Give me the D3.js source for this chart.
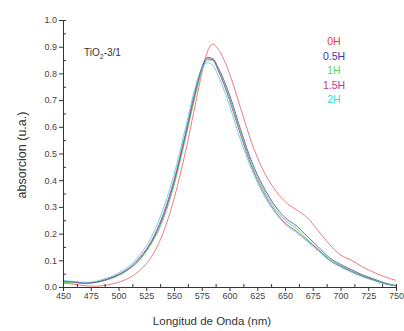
<!DOCTYPE html>
<html>
<head>
<meta charset="utf-8">
<script src="https://cdn.jsdelivr.net/npm/d3@7"></script>
<style>
  body { margin: 0; background: #fff; }
  svg { display: block; font-family: "Liberation Sans", Arial, sans-serif; }
</style>
</head>
<body>
<div id="chart"></div>
<script>
// Datos del espectro
var wavelength = [450, 460, 470, 480, 490, 500, 510, 520, 530, 540, 550, 560, 570, 575, 580, 585, 590,
  600, 610, 620, 630, 640, 650, 660, 670, 680, 690, 700, 710, 720, 730, 740, 750];

var abs0H  = [0.015, 0.010, 0.005, 0.003, 0.008, 0.018, 0.035, 0.065, 0.115, 0.20, 0.33, 0.50, 0.70, 0.80, 0.88, 0.91, 0.89,
  0.80, 0.67, 0.54, 0.44, 0.37, 0.32, 0.29, 0.26, 0.21, 0.16, 0.12, 0.10, 0.075, 0.055, 0.038, 0.025];
var abs05H = [0.020, 0.018, 0.014, 0.018, 0.028, 0.045, 0.070, 0.110, 0.170, 0.26, 0.39, 0.56, 0.74, 0.82, 0.86, 0.855, 0.82,
  0.72, 0.59, 0.47, 0.38, 0.31, 0.26, 0.23, 0.19, 0.15, 0.11, 0.085, 0.065, 0.045, 0.030, 0.015, 0.005];
var abs1H  = [0.018, 0.016, 0.013, 0.017, 0.027, 0.043, 0.068, 0.105, 0.165, 0.25, 0.38, 0.55, 0.73, 0.81, 0.85, 0.85, 0.81,
  0.71, 0.58, 0.46, 0.37, 0.30, 0.25, 0.22, 0.18, 0.14, 0.105, 0.08, 0.06, 0.042, 0.028, 0.014, 0.006];
var abs15H = [0.022, 0.019, 0.015, 0.019, 0.030, 0.047, 0.073, 0.115, 0.175, 0.27, 0.40, 0.57, 0.75, 0.82, 0.855, 0.85, 0.81,
  0.70, 0.57, 0.45, 0.36, 0.29, 0.24, 0.21, 0.175, 0.14, 0.10, 0.078, 0.058, 0.040, 0.026, 0.012, 0.004];
var abs2H  = [0.024, 0.021, 0.017, 0.022, 0.034, 0.052, 0.080, 0.125, 0.19, 0.29, 0.42, 0.59, 0.76, 0.82, 0.84, 0.83, 0.79,
  0.68, 0.55, 0.44, 0.35, 0.285, 0.235, 0.205, 0.17, 0.135, 0.10, 0.075, 0.055, 0.038, 0.024, 0.012, 0.004];

var seriesNames = ["0H", "0.5H", "1H", "1.5H", "2H"];
var seriesValues = [abs0H, abs05H, abs1H, abs15H, abs2H];
var xTicks = [450, 475, 500, 525, 550, 575, 600, 625, 650, 675, 700, 725, 750];
var yTicks = [0.0, 0.1, 0.2, 0.3, 0.4, 0.5, 0.6, 0.7, 0.8, 0.9, 1.0];

var lineColors = ["#e5505a", "#2c3c9e", "#3cc83c", "#b02a7c", "#38c8e0"];
var textColors = ["#e8403c", "#3a3aa8", "#5ad25a", "#b83c8c", "#40d8d8"];

var width = 404, height = 331;
var margin = { top: 20, right: 8, bottom: 44, left: 63 };

var svg = d3.select("#chart").append("svg")
  .attr("width", width)
  .attr("height", height);

var x = d3.scaleLinear().domain([450, 750]).range([margin.left, width - margin.right]);
var y = d3.scaleLinear().domain([0, 1]).range([height - margin.bottom, margin.top]);

// Lineas
var line = d3.line()
  .x(function (d) { return x(d[0]); })
  .y(function (d) { return y(d[1]); })
  .curve(d3.curveMonotoneX);

seriesValues.forEach(function (vals, i) {
  svg.append("path")
    .datum(wavelength.map(function (w, j) { return [w, vals[j]]; }))
    .attr("fill", "none")
    .attr("stroke", lineColors[i])
    .attr("stroke-opacity", 0.75)
    .attr("stroke-width", 1)
    .attr("d", line);
});

// Ejes
var xAxis = svg.append("g")
  .attr("transform", "translate(0," + y(0) + ")")
  .call(d3.axisBottom(x).tickValues(xTicks).tickSize(4).tickFormat(d3.format("d")));

var xMinor = svg.append("g")
  .attr("transform", "translate(0," + y(0) + ")")
  .call(d3.axisBottom(x).tickValues(d3.range(462.5, 750, 25)).tickSize(-3).tickFormat(""));

var yAxis = svg.append("g")
  .attr("transform", "translate(" + x(450) + ",0)")
  .call(d3.axisLeft(y).tickValues(yTicks).tickSize(4).tickFormat(d3.format(".1f")));

var yMinor = svg.append("g")
  .attr("transform", "translate(" + x(450) + ",0)")
  .call(d3.axisLeft(y).tickValues(d3.range(0.05, 1, 0.1)).tickSize(-3).tickFormat(""));

[xAxis, xMinor, yAxis, yMinor].forEach(function (g) {
  g.select(".domain").attr("stroke", "#333").attr("stroke-width", 1);
  g.selectAll(".tick line").attr("stroke", "#333");
  g.selectAll(".tick text").attr("fill", "#444").attr("font-size", 9)
    .attr("font-family", "Liberation Sans, Arial, sans-serif");
});
yAxis.selectAll(".tick text").attr("x", -6);
xAxis.selectAll(".tick text").attr("y", 6);

// Titulos
svg.append("text")
  .attr("x", 212)
  .attr("y", 325)
  .attr("text-anchor", "middle")
  .attr("font-size", 11.5)
  .attr("fill", "#333")
  .text("Longitud de Onda (nm)");

svg.append("text")
  .attr("transform", "translate(26," + 155 + ") rotate(-90)")
  .attr("text-anchor", "middle")
  .attr("font-size", 12.5)
  .attr("fill", "#333")
  .text("absorcion (u.a.)");

var label = svg.append("text")
  .attr("x", 84)
  .attr("y", 56)
  .attr("font-size", 10)
  .attr("fill", "#333");
label.append("tspan").text("TiO");
label.append("tspan").attr("font-size", 7).attr("dy", 3).text("2");
label.append("tspan").attr("dy", -3).text("-3/1");

// Leyenda
svg.selectAll(".legend")
  .data(seriesNames)
  .enter().append("text")
  .attr("class", "legend")
  .attr("x", 334)
  .attr("y", function (d, i) { return 45 + i * 14.6; })
  .attr("text-anchor", "middle")
  .attr("font-size", 10.5)
  .attr("fill", function (d, i) { return textColors[i]; })
  .text(function (d) { return d; });
</script>
</body>
</html>
